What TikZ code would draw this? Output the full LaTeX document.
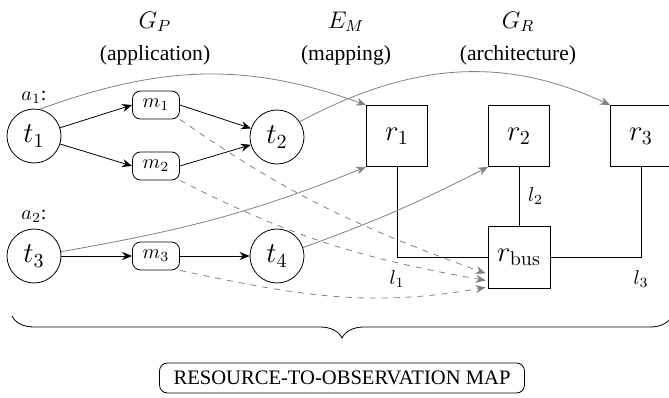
\documentclass[tikz,border=0pt]{standalone}
\usepackage[no-math]{fontspec}
\setmainfont{Liberation Serif}
\usetikzlibrary{arrows.meta,decorations.pathreplacing,calc}
\begin{document}
\begin{tikzpicture}[x=0.5pt,y=0.5pt,
 task/.style={circle,draw,minimum size=27pt,inner sep=0pt,font=\Large},
 msg/.style={rounded corners=4pt,draw,minimum width=23.5pt,minimum height=14pt,inner sep=0pt},
 res/.style={draw,minimum size=30.5pt,inner sep=0pt,font=\Large},
 arr/.style={-{Stealth[length=5pt,width=4pt]}},
 map/.style={gray,-{Stealth[length=5pt,width=4pt]}},
 obs/.style={gray,dashed,-{Stealth[length=5pt,width=4pt]}},
 ttl/.style={font=\large},
 subt/.style={font=\fontsize{10.8}{13}\selectfont},
 lnk/.style={line width=0.5pt},
]
\useasboundingbox (0,0) rectangle (669,397);
% titles
\node[ttl] (gp) at (155,375) {$G_P$};
\node[subt] (gpt) at (155,342) {(application)};
\node[ttl] (em) at (346,375) {$E_M$};
\node[subt] (emt) at (346,342) {(mapping)};
\node[ttl] (gr) at (518,375) {$G_R$};
\node[subt] (grt) at (518,342) {(architecture)};
% application
\node[task] (t1) at (34,261) {$t_1$};
\node (a1) at (34,300) {$a_1$:};
\node[msg] (m1) at (156,292) {$m_1$};
\node[msg] (m2) at (156,231) {$m_2$};
\node[task] (t2) at (277,260) {$t_2$};
\node[task] (t3) at (34,141) {$t_3$};
\node (a2) at (34,181) {$a_2$:};
\node[msg] (m3) at (156,141) {$m_3$};
\node[task] (t4) at (277,141) {$t_4$};
% architecture
\node[res] (r1) at (397,261) {$r_1$};
\node[res] (r2) at (519,261) {$r_2$};
\node[res] (r3) at (641,261) {$r_3$};
\node[res,minimum size=31pt] (rb) at (519,140) {$r_{\mathrm{bus}}$};
% application edges
\draw[arr] (t1) -- (m1.west);
\draw[arr] (t1) -- (m2.west);
\draw[arr] (m1.east) -- (t2);
\draw[arr] (m2.east) -- (t2);
\draw[arr] (t3) -- (m3);
\draw[arr] (m3) -- (t4);
% links
\draw[lnk] (r1.south) |- node[pos=0.5,below=3pt] {$l_1$} (rb.west);
\draw[lnk] (r3.south) |- node[pos=0.5,below=3pt] {$l_3$} (rb.east);
\draw[lnk] (r2.south) -- node[right=1pt] {$l_2$} (rb.north);
% mapping
\draw[map] (t1.78) to[out=20,in=160] (r1.north west);
\draw[map] (t2.34) to[out=28,in=155] (r3.north west);
\draw[map] (t3.9) to[out=10,in=202] (r1.south west);
\draw[map] (t4.18) to[out=20,in=207] (r2.south west);
% observation
\draw[obs] (m1.south east) to[out=-35,in=160] ($(rb.south west)+(-2,15)$);
\draw[obs] (m2.south east) to[out=-27,in=170] ($(rb.south west)+(-2,8)$);
\draw[obs] (m3.south east) to[out=-12,in=190] ($(rb.south west)+(-2,1)$);
% brace
\coordinate (bl) at (12,81);
\coordinate (br) at (672,81);
\draw[decorate,decoration={brace,mirror,amplitude=11pt}] (bl) -- (br);
\node[draw,rounded corners=4pt,minimum width=182.5pt,minimum height=15pt,inner sep=0pt,font=\fontsize{10.3}{12}\selectfont] (map) at (342,19) {RESOURCE-TO-OBSERVATION MAP};
\end{tikzpicture}
\end{document}
